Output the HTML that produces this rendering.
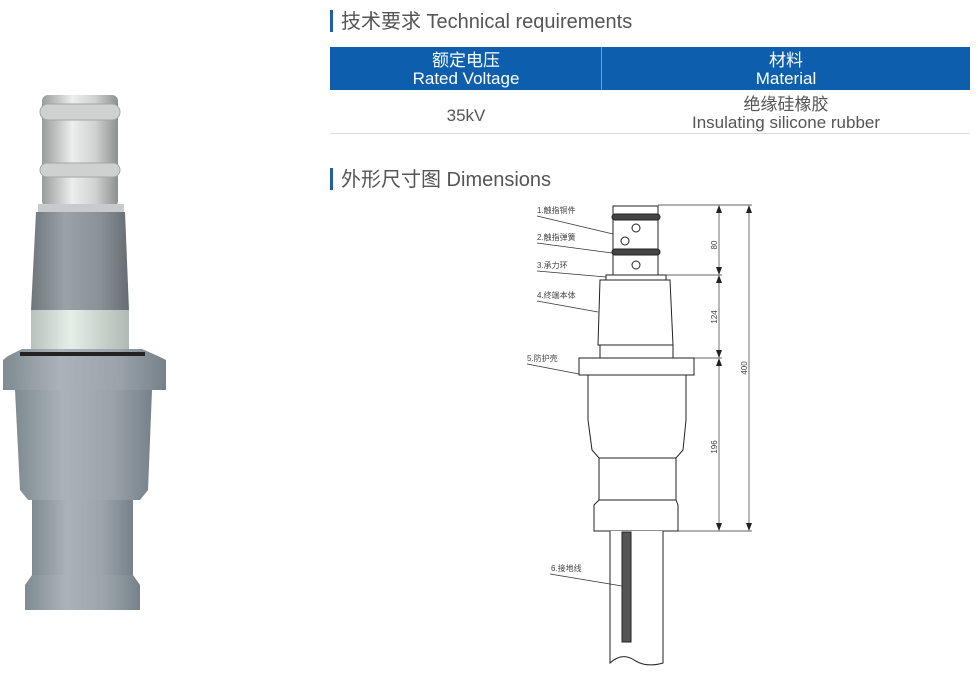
<!DOCTYPE html>
<html><head><meta charset="utf-8"><style>
body{margin:0;background:#fff;width:978px;height:676px;overflow:hidden;font-family:"Liberation Sans","Noto Sans CJK SC",sans-serif;}
</style></head><body>
<svg width="978" height="676" viewBox="0 0 978 676" xmlns="http://www.w3.org/2000/svg" font-family="Liberation Sans, Noto Sans CJK SC, sans-serif">
<defs>
<linearGradient id="sil" x1="0" x2="1"><stop offset="0" stop-color="#9a9c9c"/><stop offset=".4" stop-color="#eceeee"/><stop offset=".7" stop-color="#d0d2d2"/><stop offset="1" stop-color="#8e9090"/></linearGradient>
<linearGradient id="dg" x1="0" x2="1"><stop offset="0" stop-color="#6f777c"/><stop offset=".35" stop-color="#9aa2a7"/><stop offset=".7" stop-color="#8a9297"/><stop offset="1" stop-color="#656d72"/></linearGradient>
<linearGradient id="gr" x1="0" x2="1"><stop offset="0" stop-color="#b6c2bb"/><stop offset=".4" stop-color="#e6eee8"/><stop offset="1" stop-color="#aebab3"/></linearGradient>
<linearGradient id="lg" x1="0" x2="1"><stop offset="0" stop-color="#7f8a91"/><stop offset=".35" stop-color="#aab3b9"/><stop offset=".7" stop-color="#9ba4aa"/><stop offset="1" stop-color="#76818a"/></linearGradient>
</defs>
<!-- photo -->
<rect x="42" y="95" width="76" height="112" rx="6" fill="url(#sil)"/>
<rect x="40" y="104" width="80" height="16" rx="8" fill="#cfd1d1" stroke="#a4a6a6"/>
<rect x="40" y="163" width="80" height="14" rx="7" fill="#cfd1d1" stroke="#a4a6a6"/>
<rect x="38" y="204" width="86" height="9" fill="#c8cacb"/>
<path d="M36 212 H125 L129 310 H31 Z" fill="url(#dg)"/>
<rect x="31" y="310" width="98" height="47" fill="url(#gr)"/>
<path d="M8 356 L22 349 H142 L158 356 L166 360 V390 H3 V360 Z" fill="url(#lg)"/>
<rect x="20" y="352" width="125" height="4" fill="#222"/>
<path d="M15 390 H152 L148 490 L140 500 H28 L20 490 Z" fill="url(#lg)"/>
<rect x="32" y="500" width="101" height="78" fill="url(#lg)"/>
<path d="M32 575 L25 585 V610 H140 V585 L133 575 Z" fill="url(#lg)"/>
<!-- headings -->
<rect x="330" y="10" width="3" height="22" fill="#1f5fa8"/>
<text x="341" y="28" font-size="20" fill="#555">技术要求 Technical requirements</text>
<rect x="330" y="47" width="640" height="43" fill="#0d5fae"/>
<rect x="601" y="47" width="1" height="43" fill="#6b9fd3"/>
<g fill="#fff" font-size="17" text-anchor="middle"><text x="466" y="66">额定电压</text><text x="466" y="84">Rated Voltage</text>
<text x="786" y="66">材料</text><text x="786" y="84">Material</text></g>
<g fill="#555" font-size="17" text-anchor="middle"><text x="466" y="121">35kV</text><text x="786" y="110">绝缘硅橡胶</text><text x="786" y="128">Insulating silicone rubber</text></g>
<rect x="330" y="133" width="640" height="1" fill="#ddd"/>
<rect x="330" y="168" width="3" height="22" fill="#1f5fa8"/>
<text x="341" y="186" font-size="20" fill="#555">外形尺寸图 Dimensions</text>
<!-- drawing -->
<g stroke="#222" fill="#fff" stroke-width="1">
<rect x="613" y="206" width="45" height="69"/>
<rect x="612" y="214" width="48" height="6" rx="3" fill="#444"/>
<rect x="612" y="249" width="48" height="6" rx="3" fill="#444"/>
<circle cx="636" cy="228" r="4"/><circle cx="625" cy="241" r="4"/><circle cx="636" cy="265" r="4"/>
<rect x="606" y="275" width="60" height="5"/>
<path d="M600 280 H670 L673 345 H598 Z"/>
<rect x="600" y="345" width="73" height="13"/>
<rect x="579" y="358" width="115" height="17"/>
<path d="M588 375 H686 V420 L683 450 L676 458 H599 L592 450 L588 420 Z"/>
<rect x="599" y="458" width="77" height="42"/>
<path d="M599 500 H676 L678 505 V531 H594 V505 Z"/>
<path d="M610 531 V663 Q622 652 634 660 T663 663 V531"/>
<rect x="622" y="532" width="9" height="110" fill="#555"/>
</g>
<g stroke="#333" stroke-width=".7" fill="none">
<line x1="658" y1="205" x2="752" y2="205"/><line x1="666" y1="275" x2="722" y2="275"/>
<line x1="694" y1="358" x2="722" y2="358"/><line x1="678" y1="531" x2="752" y2="531"/>
<line x1="719" y1="207" x2="719" y2="273"/><line x1="719" y1="277" x2="719" y2="356"/>
<line x1="719" y1="360" x2="719" y2="529"/><line x1="749" y1="207" x2="749" y2="529"/>
<line x1="537" y1="216" x2="613" y2="234"/><line x1="537" y1="243" x2="612" y2="253"/>
<line x1="537" y1="271" x2="606" y2="277"/><line x1="537" y1="301" x2="598" y2="312"/>
<line x1="527" y1="364" x2="579" y2="374"/><line x1="550" y1="574" x2="622" y2="586"/>
</g>
<g fill="#222">
<path d="M719 205 l-3 8 h6z M719 275 l-3 -8 h6z M719 275 l-3 8 h6z M719 358 l-3 -8 h6z M719 358 l-3 8 h6z M719 531 l-3 -8 h6z M749 205 l-3 8 h6z M749 531 l-3 -8 h6z"/>
</g>
<g font-size="8" fill="#444">
<text x="537" y="213">1.触指铜件</text><text x="537" y="240">2.触指弹簧</text>
<text x="537" y="268">3.承力环</text><text x="537" y="298">4.终端本体</text>
<text x="527" y="361">5.防护壳</text><text x="551" y="571">6.接地线</text>
<text transform="translate(717 245) rotate(-90)" text-anchor="middle">80</text>
<text transform="translate(717 317) rotate(-90)" text-anchor="middle">124</text>
<text transform="translate(717 447) rotate(-90)" text-anchor="middle">196</text>
<text transform="translate(747 368) rotate(-90)" text-anchor="middle">400</text>
</g>
</svg>
</body></html>
